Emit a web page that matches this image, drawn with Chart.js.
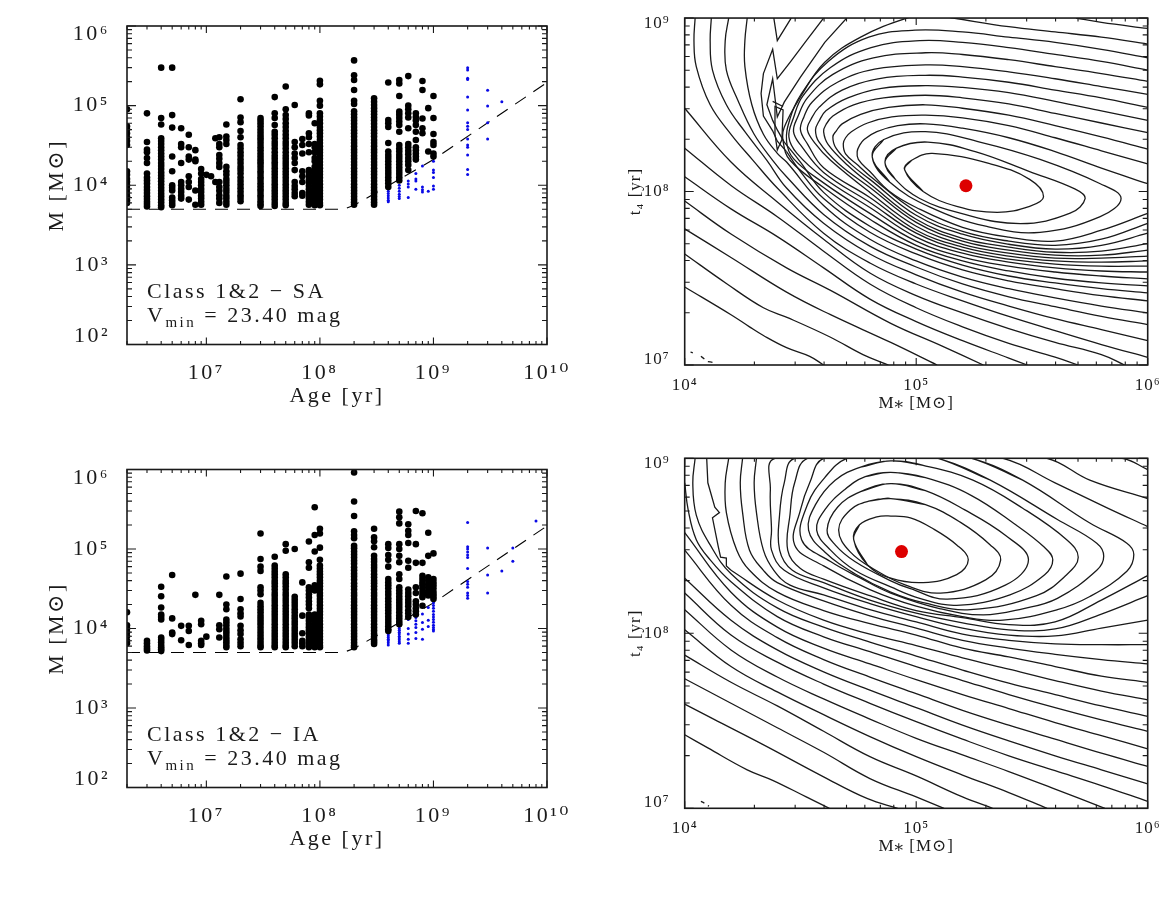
<!DOCTYPE html>
<html>
<head>
<meta charset="utf-8">
<title>Class 1&amp;2 mass-age fits</title>
<script src="https://cdn.jsdelivr.net/npm/chart.js@4/dist/chart.umd.min.js"></script>
<style>
  html, body { margin: 0; background: #fff; }
  body { position: relative; width: 1175px; height: 899px; overflow: hidden; }
  canvas { position: absolute; }
  #cSA { left: 0; top: 0; }
  #cFitSA { left: 587px; top: 0; }
  #cIA { left: 0; top: 440px; }
  #cFitIA { left: 587px; top: 440px; }
</style>
</head>
<body>
<canvas id="cSA" width="587" height="430"></canvas>
<canvas id="cFitSA" width="588" height="430"></canvas>
<canvas id="cIA" width="587" height="459"></canvas>
<canvas id="cFitIA" width="588" height="459"></canvas>
<script>
// masses below are in units of 1000 Msun
const saAges = [2e6,3e6,4e6,5e6,6e6,7e6,8e6,9e6,1e7,1.1e7,1.2e7,1.3e7,1.5e7,2e7,3e7,4e7,5e7,6e7,7e7,8e7,9e7,1e8,2e8,3e8,4e8,5e8,6e8,7e8,8e8,9e8,1e9];
const saMasses = [
  [90,55,50,45,40,36,32,15,13.5,12,11,10,9,8,7.2,6.5,6],
  [80,35,28,26,22,19,14,12.5,11.5,10.5,9.5,8.7,8,7.3,6.7,6.2,5.8,5.4],
  [300,70,58,39,36,33,30,27.5,25,23,21,19,17.5,16,14.5,13.3,12.2,11.2,10.2,9.3,8.5,7.8,7.2,6.6,6.1,5.6,5.3],
  [300,76,53,23,15,10,9.3,8.6,7,6.5,6,5.6],
  [52,33,30,19,11,10,9,8.2,7.4,6.8],
  [43,30,23,21,13,11,9.5,6.6],
  [27.6,21,20,8.6,5.7],
  [16,14,12,11,10,9,8.2,7.4,6.8,6.2,5.7],
  [13.5],
  [13],
  [39,11],
  [40,33,30,24,21.5,19,17,11,9.5,8.5,7.5,6.8,6],
  [58,41,37,33,17,15,13.5,12,11,10,9,8.2,7.4,6.8,6.2,5.7],
  [120,71,62,48,40,32,29,26,23.5,21,19,17,15.5,14,12.5,11.3,10.2,9.2,8.3,7.5,6.9,6.3],
  [70,65,60,55,50,46,42,39,36,33,30,27.5,25,23,21,19.5,18,16.5,15,13.8,12.6,11.6,10.6,9.7,8.9,8.2,7.5,6.9,6.3,5.8,5.5],
  [128,80,70,57,47,43,39,35,32,29,26,23.5,21.5,19.5,17.9,16.3,14.9,13.6,12.4,11.3,10.3,9.4,8.6,7.9,7.2,6.6,6,5.5],
  [174,90,76,68,60,54,48,43,39,35,32,29,26,23.5,21.5,19.6,17.9,16.3,14.9,13.6,12.4,11.3,10.3,9.4,8.6,7.9,7.2,6.6,6,5.6],
  [102,35,30,25,22,19,15.5,11,9.8,8.9,8,7.3],
  [38,32,25,15,13,11,8,7.4],
  [80,75,45,40,33,26,15.5,14.2,13,11.8,10.8,9.8,8.9,8.1,7.4,6.8,6.2,5.7],
  [60,33,30,26,22,20,17,15,13.6,12.4,11.3,10.3,9.4,8.6,7.9,7.2,6.6,6,5.6],
  [205,185,115,100,80,73,66,60,54,49,45,41,37,34,31,28,25.8,23.5,21.5,19.6,17.9,16.3,14.9,13.6,12.4,11.3,10.3,9.4,8.6,7.9,7.2,6.6,6,5.6],
  [370,240,210,157,115,105,85,78,71,65,59,54,49,45,41,37,34,31,28,25.8,23.5,21.5,19.6,17.9,16.3,14.9,13.6,12.4,11.3,10.3,9.4,8.6,7.9,7.2,6.6,6.1,5.7],
  [124,112,102,93,85,78,71,65,59,54,49,45,41,37,34,31,28,25.8,23.5,21.5,19.6,17.9,16.3,14.9,13.6,12.4,11.3,10.3,9.4,8.6,7.9,7.2,6.6,6.1,5.7],
  [195,66,60,54,34,26.5,24,22,20,18.2,16.6,15.1,13.8,12.6,11.5,10.5,9.5],
  [210,190,132,84,77,70,63,57,47,32,29,26.5,24,22,20,18.2,16.6,15.1,13.8,12.6,11.5],
  [235,100,90,80,71,52,33,30,27,24.5,22,20,18,15.5],
  [80,72,65,57,47,37,30,27.5,25,23,21],
  [204,157,69,52,45],
  [93,26.5],
  [132,70,44,35,32,25,23]
];
const saBlueAges = [3e8,4e8,5e8,6e8,7e8,8e8,9e8,1e9,2e9,3e9,4e9];
const saBlueMasses = [
  [6.5,6.2],
  [9,8.4,7.9,7.4,6.9,6.5,6.2],
  [10,9.2,8.4,7.7,7.2,6.8],
  [11.3,10.4,9.5,7],
  [14,12,11.3,8.9],
  [17.5,9.5,8.8,8.2],
  [8.4],
  [20,15.5,14.5,12.5,9.8,8.9],
  [300,280,220,213,128,88,61,55,50,38,32,30,24,15.8,13.6],
  [156,99,61,38],
  [112]
];

const iaAges = [2e6,3e6,4e6,5e6,6e6,7e6,8e6,9e6,1e7,1.3e7,1.5e7,2e7,3e7,4e7,5e7,6e7,7e7,8e7,9e7,1e8,2e8,3e8,4e8,5e8,6e8,7e8,8e8,9e8,1e9];
const iaMasses = [
  [16,11,10,9,8,7,6.5],
  [7,6.5,6,5.6,5.3],
  [33.5,25.5,18.4,15,14,13,7.7,7.2,6.7,6.2,5.8,5.5,5.2],
  [47,13.4,8.9,8.5],
  [10.8,7.1],
  [10.8,9.3,6.2],
  [26.5],
  [12.5,11.3,7,6.5,6.2],
  [7.9],
  [26.5,11,9.8,7.7],
  [45,20,17.5,13,12,11,10,9.2,8.5,7.8,7.2,6.7,6.2,5.8],
  [49,23.5,17.5,15.5,14.2,10.8,9.5,8.5,7.3,6.6,6],
  [157,75,60,53,33,30,27,21,19,17.5,16,14.5,13.3,12.2,11.2,10.2,9.3,8.5,7.8,7.2,6.6,6.1,5.8],
  [80,62,57,52,48,44,40,37,34,31,28,25.8,23.5,21.5,19.6,17.9,16.3,14.9,13.6,12.4,11.3,10.3,9.4,8.6,7.9,7.2,6.6,6.1,5.8],
  [115,95,48,44,40,37,34,31,28,25.8,23.5,21.5,19.6,17.9,16.3,14.9,13.6,12.4,11.3,10.3,9.4,8.6,7.9,7.2,6.6,6.1,5.8],
  [100,25,23,21,19.2,17.5,16,14.6,13.4,12.2,11.2,10.2,9.4,8.6,7.9,7.2,6.6,6],
  [38,14.5,8.7,7,6.5,6],
  [124,68,58,33,30,27,24.5,22,20,18,15,13.7,12.5,11.4,10.4,9.5,8.7,7.9,7.2,6.6,6.1,5.8],
  [335,150,93,35,32,30,15,13.7,12.5,11.4,10.4,9.5,8.7,7.9,7.2,6.6,6.1,5.8],
  [180,157,104,73,62,57,52,48,44,40,37,34,31,28,25.8,23.5,21.5,19.6,17.9,16.3,14.9,13.6,12.4,11.3,10.3,9.4,8.6,7.9,7.2,6.6,6.1,5.8],
  [915,395,260,167,150,137,110,102,93,85,78,71,65,59,54,49,45,41,37,34,31,28,25.8,23.5,21.5,19.6,17.9,16.3,14.9,13.6,12.4,11.3,10.3,9.4,8.6,7.9,7.2,6.6,6.1,5.8],
  [180,140,125,105,82,75,69,63,58,53,48,44,40,37,34,31,28,25.8,23.5,21.5,19.6,17.9,16.3,14.9,13.6,12.4,11.3,10.3,9.4,8.6,7.9,7.2,6.8,6.4],
  [115,103,84,73,60,42,38,35,32,29,26.5,24,22,20,18.4,16.8,15.4,14,12.8,11.7,10.7,9.8,9.3],
  [295,250,210,115,100,82,68,48,42,33,30,27.5,25,23,21,19.2,17.6,16,14.6,13.4,12.2,11.3],
  [205,170,150,119,71,58,31,28,25.5,23,21,19,17,15.5,14],
  [300,115,67,33,28,22,20,18,16.5,15],
  [282,67,46,42,38,35,32,29,26.5,24.7,19.3],
  [160,82,44,40,36,33,30,28,26],
  [88,42,38,35,32,29,27,25,23.5]
];
const iaBlueAges = [3e8,4e8,5e8,6e8,7e8,8e8,9e8,1e9,2e9,3e9,4e9,5e9,8e9];
const iaBlueMasses = [
  [7,6.7,6.4,6.2],
  [8.5,8.1,7.7,7.3,7,6.6,6.2],
  [10.6,10,9.5,9,8.5,8,7.6,7.2,6.8,6.5],
  [13,10,8.5,7.3,6.5],
  [13.8,12.5,11.3,10.3,8.9,7.5],
  [15.2,11.9,9.8,7.3],
  [18.4,12.7,10.6],
  [21,19.5,18,16.5,15,14,13,12,11,10.3,9.7,9.3],
  [215,107,100,92,84,78,57,39,36,33,28,26,24],
  [103,47,28],
  [53],
  [103,70],
  [225]
];

// completeness limit, same in both left panels
const limitAges = [2e6,1.5e8,1.7e8,2e8,1e9,1e10];
const limitMasses = [5,5,5.15,5.6,21,195];

const ageTicks = [1e7,1e8,1e9,1e10];
const massTicks = [1e2,1e3,1e4,1e5,1e6];
const starMassTicks = [1e4,1e5,1e6];
const timeTicks = [1e7,1e8,1e9];

// best fit points [Msun, yr]
const bestFitSA = [1.64e5,1.08e8];
const bestFitIA = [8.64e4,2.93e8];

// contours as log10(M*) and log10(t4)
const saContourM = [
  [4,4.2,4.28,4.34,4.44,4.54,4.6],
  [4,4.18,4.34,4.45,4.63,4.77,4.88],
  [4,4.2,4.44,4.63,4.89,5.09],
  [4,4.2,4.44,4.63,4.89,5.11,5.29],
  [4,4.2,4.4,4.6,4.8,5,5.2,5.4,5.48],
  [4,4.2,4.4,4.6,4.8,5,5.2,5.4,5.6,5.7],
  [4,4.2,4.4,4.6,4.8,5,5.2,5.4,5.6,5.8,5.9],
  [4.045,4.04,4.05,4.11,4.2,4.295,4.4,4.6,4.8,5,5.2,5.4,5.6,5.8,6],
  [4.115,4.11,4.12,4.18,4.26,4.355,4.44,4.6,4.8,5,5.2,5.4,5.6,5.8,6],
  [4.19,4.175,4.18,4.23,4.3,4.38,4.44,4.6,4.8,5,5.2,5.4,5.6,5.8,6],
  [4.27,4.26,4.26,4.29,4.34,4.4,4.44,4.6,4.8,5,5.2,5.4,5.6,5.8,6],
  [4.385,4.4,4.46],
  [4.6,4.52,4.455,4.4,4.38,4.34,4.33,4.34,4.38,4.4,4.44],
  [4.7,4.605,4.5,4.43,4.4,4.38,4.355,4.38,4.4,4.43],
  [4.39,4.425,4.42,4.4,4.39,4.39],
  [4.38,4.425],
  [4.44,4.5,4.6,4.8,5,5.2,5.4,5.6,5.8,6],
  [4.43,4.5,4.6,4.8,5,5.2,5.4,5.6,5.8,6],
  [6,5.8,5.69],
  [6,5.8,5.6,5.4,5.16,5.06,4.96,4.76,4.605,4.5,4.43,4.425,4.455,4.6,4.8,5,5.2,5.4,5.6,5.8,6],
  [6,5.8,5.6,5.4,5.2,4.995,4.795,4.62,4.5,4.455,4.44,4.47,4.6,4.8,5,5.2,5.4,5.6,5.8,6],
  [6,5.8,5.6,5.4,5.2,5.015,4.805,4.63,4.51,4.47,4.45,4.485,4.6,4.8,5,5.2,5.4,5.6,5.8,6],
  [6,5.8,5.6,5.4,5.2,5.04,4.815,4.64,4.53,4.49,4.47,4.505,4.6,4.8,5,5.2,5.4,5.6,5.8,6],
  [6,5.8,5.6,5.4,5.2,5.04,4.82,4.66,4.55,4.515,4.5,4.53,4.6,4.8,5,5.2,5.4,5.6,5.8,6],
  [6,5.8,5.6,5.4,5.2,5.04,4.835,4.68,4.58,4.545,4.53,4.565,4.63,4.8,5,5.2,5.4,5.6,5.8,6],
  [6,5.8,5.6,5.4,5.2,5.04,4.85,4.705,4.61,4.58,4.565,4.58,4.665,4.8,5,5.2,5.4,5.6,5.8,6],
  [6,5.8,5.6,5.4,5.2,5.04,4.86,4.73,4.64,4.61,4.6,4.62,4.705,4.8,5,5.2,5.4,5.6,5.8,6],
  [6,5.8,5.6,5.4,5.2,5.04,4.88,4.76,4.68,4.655,4.64,4.655,4.72,4.8,5,5.2,5.4,5.6,5.8,6],
  [6,5.8,5.6,5.4,5.2,5.04,4.895,4.79,4.72,4.695,4.685,4.695,4.75,4.8,5,5.2,5.4,5.6,5.8,6],
  [6,5.8,5.6,5.4,5.2,5.04,4.92,4.83,4.775,4.755,4.745,4.75,4.8,4.885,5,5.2,5.4,5.6,5.8,6],
  [4.81,4.86,5.04,5.275,5.535,5.795,5.885,5.795,5.535,5.3,5.06,4.885,4.81],
  [4.865,4.915,5.05,5.255,5.49,5.685,5.73,5.665,5.45,5.19,5.015,4.91,4.865],
  [4.95,4.98,5.07,5.32,5.49,5.55,5.49,5.35,5.175,5.03,4.95],
  [4.025,4.035],
  [4.07,4.085],
  [4.1,4.12]
];
const saContourT = [
  [7.45,7.29,7.22,7.17,7.1,7.05,7],
  [7.64,7.47,7.33,7.27,7.16,7.06,7],
  [7.785,7.62,7.42,7.29,7.13,7],
  [7.945,7.755,7.56,7.43,7.24,7.11,7],
  [8.085,7.9,7.74,7.56,7.38,7.25,7.14,7.04,7],
  [8.25,8.035,7.855,7.656,7.467,7.33,7.22,7.125,7.045,7],
  [8.48,8.17,7.94,7.725,7.53,7.4,7.3,7.21,7.13,7.06,7],
  [9,8.87,8.72,8.5,8.33,8.18,8.02,7.76,7.588,7.467,7.37,7.28,7.198,7.118,7.044],
  [9,8.87,8.7,8.5,8.345,8.18,8.02,7.817,7.64,7.52,7.42,7.34,7.267,7.204,7.14],
  [9,8.87,8.7,8.525,8.33,8.18,8.085,7.868,7.685,7.565,7.467,7.393,7.336,7.28,7.233],
  [9,8.87,8.72,8.5,8.33,8.22,8.17,7.92,7.725,7.6,7.507,7.44,7.387,7.34,7.3],
  [9,8.87,9],
  [9,8.86,8.745,8.65,8.82,8.68,8.565,8.435,8.35,8.29,8.23],
  [9,8.86,8.66,8.515,8.43,8.65,8.5,8.41,8.355,8.285],
  [8.49,8.47,8.3,8.24,8.33,8.49],
  [8.52,8.49],
  [8.23,8.115,7.96,7.765,7.64,7.548,7.485,7.44,7.4,7.37],
  [8.285,8.17,7.995,7.8,7.668,7.576,7.513,7.473,7.44,7.416],
  [8.94,8.975,9],
  [8.85,8.89,8.92,8.95,9,9.02,9,8.89,8.745,8.545,8.37,8.29,8.18,8.023,7.84,7.69,7.6,7.542,7.5,7.473,7.456],
  [8.77,8.82,8.86,8.89,8.92,8.93,8.89,8.75,8.555,8.42,8.29,8.19,8.05,7.874,7.714,7.622,7.57,7.536,7.513,7.496],
  [8.7,8.75,8.79,8.83,8.86,8.87,8.83,8.715,8.55,8.425,8.315,8.22,8.08,7.908,7.737,7.645,7.593,7.56,7.542,7.536],
  [8.635,8.68,8.72,8.76,8.79,8.8,8.77,8.675,8.54,8.435,8.345,8.26,8.11,7.937,7.76,7.662,7.61,7.582,7.57,7.57],
  [8.56,8.605,8.65,8.69,8.72,8.73,8.705,8.63,8.515,8.43,8.355,8.275,8.137,7.966,7.777,7.68,7.628,7.6,7.593,7.6],
  [8.485,8.54,8.585,8.63,8.66,8.67,8.65,8.585,8.485,8.415,8.355,8.275,8.18,7.995,7.8,7.696,7.645,7.616,7.616,7.628],
  [8.41,8.465,8.52,8.57,8.6,8.61,8.595,8.54,8.465,8.405,8.355,8.286,8.16,8.023,7.822,7.714,7.662,7.633,7.633,7.662],
  [8.34,8.395,8.45,8.505,8.54,8.555,8.54,8.5,8.435,8.385,8.345,8.27,8.15,8.045,7.84,7.73,7.68,7.65,7.656,7.7],
  [8.245,8.315,8.38,8.44,8.48,8.5,8.485,8.445,8.39,8.35,8.315,8.247,8.155,8.07,7.863,7.754,7.696,7.668,7.69,7.76],
  [8.16,8.235,8.31,8.38,8.425,8.44,8.43,8.395,8.345,8.31,8.275,8.217,8.15,8.09,7.885,7.77,7.714,7.69,7.725,7.817],
  [8.045,8.135,8.23,8.31,8.365,8.39,8.38,8.345,8.3,8.265,8.23,8.185,8.115,8,7.908,7.794,7.737,7.714,7.777,7.874],
  [8.2,8.3,8.345,8.285,8.185,8.045,7.96,7.855,7.765,7.8,7.91,8.055,8.2],
  [8.17,8.25,8.285,8.23,8.115,8.015,7.96,7.875,7.815,7.875,7.96,8.07,8.17],
  [8.125,8.18,8.22,8.16,8.07,7.97,7.915,7.88,7.915,8,8.125],
  [7.075,7.07],
  [7.05,7.035],
  [7.02,7.015]
];
const saSharpContours = [11,12,13,14,15];

const iaContourM = [
  [4,4.1,4.27,4.38,4.525,4.625],
  [4,4.125,4.345,4.6,4.79,4.92],
  [4,4.2,4.4,4.6,4.8,5,5.12],
  [4,4.2,4.4,4.6,4.8,5,5.2,5.33],
  [4,4.2,4.4,4.6,4.8,5,5.2,5.4,5.565],
  [4,4.2,4.4,4.6,4.8,5,5.2,5.4,5.6,5.815],
  [4,4.2,4.4,4.6,4.8,5,5.2,5.4,5.6,5.8,6],
  [4,4.2,4.4,4.6,4.8,5,5.2,5.4,5.6,5.8,6],
  [4,4.2,4.4,4.6,4.8,5,5.2,5.4,5.6,5.8,6],
  [4,4.2,4.4,4.6,4.8,5,5.2,5.4,5.6,5.8,6],
  [4,4.015,4.05,4.11,4.2,4.4,4.6,4.8,5,5.2,5.4,5.6,5.8,6],
  [4.045,4.035,4.05,4.11,4.2,4.4,4.6,4.8,5,5.2,5.4,5.6,5.8,6],
  [4.095,4.1,4.13,4.15,4.12,4.145,4.155,4.18,4.18,4.2],
  [4.2,4.4,4.6,4.8,5,5.2,5.4,5.6,5.8,6],
  [4.19,4.175,4.18,4.225,4.28,4.4,4.6,4.8,5,5.2,5.4,5.6,5.8,6],
  [4.25,4.24,4.25,4.28,4.34,4.4,4.6,4.8,5,5.2,5.4,5.6,5.8,6],
  [4.31,4.3,4.31,4.34,4.385,4.455,4.6,4.8,5,5.2,5.4,5.6,5.8,6],
  [6,5.89,5.15,4.39,4.37,4.375,4.375,4.43,4.6,4.8,5,5.2,5.4,5.6,5.8,6],
  [6,5.75,5.565,5.02,4.475,4.43,4.41,4.41,4.465,4.6,4.8,5,5.2,5.4,5.6,5.8,6],
  [6,5.82,5.6,5.375,4.9,4.53,4.475,4.455,4.445,4.5,4.6,4.8,5,5.2,5.4,5.6,5.8,6],
  [5.24,5.46,5.75,5.91,5.94,5.91,5.75,5.61,5.375,5.2,5,4.8,4.6,4.475,4.5,4.54,4.6,4.93,5.24],
  [5.095,5.32,5.61,5.78,5.81,5.78,5.61,5.46,5.29,5.105,4.89,4.76,4.63,4.505,4.53,4.605,4.7,4.89,5.095],
  [4.89,5.03,5.245,5.46,5.65,5.7,5.65,5.52,5.235,5.03,4.89,4.735,4.605,4.535,4.565,4.65,4.76,4.89],
  [4.89,5.04,5.235,5.43,5.555,5.59,5.555,5.405,5.175,5.015,4.89,4.735,4.63,4.57,4.605,4.69,4.78,4.89],
  [4.89,5.04,5.21,5.385,5.485,5.385,5.135,4.975,4.89,4.735,4.65,4.615,4.66,4.76,4.89],
  [4.89,5.04,5.19,5.32,5.365,5.3,5.105,4.955,4.825,4.715,4.665,4.715,4.795,4.89],
  [4.73,4.755,4.83,4.89,4.975,5.07,5.175,5.225,5.175,5.03,4.89,4.79,4.73],
  [4.07,4.085],
  [4.1,4.105]
];
const iaContourT = [
  [7.42,7.345,7.22,7.16,7.065,7],
  [7.595,7.51,7.36,7.18,7.055,7],
  [7.74,7.6,7.46,7.32,7.17,7.065,7],
  [7.875,7.72,7.585,7.44,7.295,7.185,7.065,7],
  [8.02,7.81,7.665,7.535,7.41,7.295,7.19,7.09,7],
  [8.135,7.905,7.75,7.625,7.51,7.4,7.305,7.21,7.11,7],
  [8.23,7.99,7.835,7.71,7.6,7.495,7.395,7.3,7.215,7.13,7.04],
  [8.315,8.075,7.905,7.78,7.675,7.575,7.475,7.385,7.3,7.22,7.14],
  [8.475,8.16,7.975,7.85,7.75,7.655,7.56,7.475,7.395,7.315,7.24],
  [8.575,8.235,8.035,7.915,7.825,7.735,7.65,7.57,7.49,7.415,7.34],
  [8.86,8.705,8.535,8.42,8.295,8.095,7.98,7.895,7.81,7.73,7.65,7.575,7.505,7.44],
  [9,8.86,8.675,8.505,8.34,8.145,8.035,7.95,7.87,7.79,7.715,7.65,7.585,7.525],
  [9,8.86,8.72,8.69,8.66,8.495,8.435,8.43,8.385,8.36],
  [8.36,8.19,8.075,7.995,7.93,7.86,7.795,7.73,7.67,7.62],
  [9,8.86,8.69,8.475,8.36,8.235,8.13,8.055,7.99,7.915,7.865,7.81,7.755,7.72],
  [9,8.86,8.69,8.475,8.36,8.29,8.185,8.1,8.03,7.96,7.915,7.88,7.85,7.825],
  [9,8.86,8.69,8.475,8.36,8.275,8.22,8.135,8.065,7.995,7.96,7.94,7.935,7.935],
  [8.935,9,9.11,9,8.82,8.59,8.475,8.36,8.26,8.17,8.095,8.03,7.99,7.985,8.03,8.075],
  [8.77,8.875,9,9.11,9,8.86,8.68,8.475,8.36,8.29,8.19,8.115,8.06,8.02,8.025,8.11,8.215],
  [8.61,8.72,8.86,9,9.1,9,8.86,8.68,8.475,8.37,8.31,8.215,8.13,8.09,8.05,8.065,8.19,8.33],
  [9,8.875,8.63,8.515,8.45,8.355,8.21,8.135,8.075,8.095,8.155,8.25,8.385,8.505,8.705,8.86,9,9.08,9],
  [9,8.875,8.65,8.515,8.44,8.36,8.2,8.14,8.105,8.14,8.23,8.315,8.41,8.535,8.735,8.89,9,9.05,9],
  [8.985,8.96,8.875,8.715,8.535,8.435,8.335,8.215,8.135,8.175,8.235,8.34,8.465,8.59,8.735,8.875,8.95,8.985],
  [8.92,8.89,8.79,8.62,8.49,8.42,8.335,8.22,8.16,8.2,8.265,8.36,8.475,8.59,8.705,8.82,8.895,8.92],
  [8.855,8.815,8.705,8.56,8.42,8.275,8.195,8.255,8.3,8.41,8.505,8.59,8.72,8.81,8.855],
  [8.77,8.735,8.635,8.505,8.42,8.305,8.23,8.275,8.36,8.465,8.59,8.705,8.755,8.77],
  [8.535,8.62,8.665,8.67,8.66,8.6,8.505,8.42,8.335,8.29,8.315,8.39,8.535],
  [7.04,7.03],
  [7.015,7.012]
];
const iaSharpContours = [12];

const FONT = "'Liberation Serif', 'DejaVu Serif', serif";
const INK = '#1a1a1a';
const SUPERS = { '0':'⁰','1':'¹','2':'²','3':'³','4':'⁴','5':'⁵','6':'⁶','7':'⁷','8':'⁸','9':'⁹' };

function decadeLabel(v) {
  const exp = String(Math.round(Math.log10(v)));
  return '10' + exp.split('').map((c) => SUPERS[c]).join('');
}

function columnPoints(ages, masses) {
  const pts = [];
  ages.forEach((age, i) => {
    masses[i].forEach((m) => pts.push({ x: age, y: m * 1000 }));
  });
  return pts;
}

function contourDatasets(logM, logT, sharp) {
  return logM.map((ms, i) => {
    let pts = ms.map((m, j) => ({ x: Math.pow(10, m), y: Math.pow(10, logT[i][j]) }));
    const last = pts.length - 1;
    // closed loops: run one node past the seam so the spline has no corner there
    if (last > 3 && ms[0] === ms[last] && logT[i][0] === logT[i][last]) {
      pts = [pts[last - 1]].concat(pts, [pts[1]]);
    }
    return {
      data: pts,
      showLine: true,
      pointRadius: 0,
      borderColor: INK,
      borderWidth: 1.3,
      tension: sharp.includes(i) ? 0 : 0.4,
      order: 2
    };
  });
}

// box and inward ticks on all four sides, like the original plots
const framePlugin = {
  id: 'frame',
  beforeDraw(chart, args, opts) {
    chart.ctx.letterSpacing = opts.spacing + 'px';
  },
  afterDatasetsDraw(chart, args, opts) {
    const { ctx, chartArea: a, scales } = chart;
    ctx.save();
    ctx.strokeStyle = INK;
    ctx.lineWidth = 1.6;
    ctx.strokeRect(a.left, a.top, a.right - a.left, a.bottom - a.top);
    ctx.lineWidth = 1.1;
    ctx.beginPath();
    ['x', 'y'].forEach((id) => {
      const s = scales[id];
      for (let e = Math.floor(Math.log10(s.min)); e < Math.log10(s.max) + 0.01; e++) {
        for (let k = 1; k < 10; k++) {
          const v = k * Math.pow(10, e);
          if (v < s.min * 0.999 || v > s.max * 1.001) continue;
          const p = s.getPixelForValue(v);
          const len = opts[id][k === 1 ? 0 : 1];
          if (id === 'x') {
            ctx.moveTo(p, a.bottom); ctx.lineTo(p, a.bottom - len);
            ctx.moveTo(p, a.top); ctx.lineTo(p, a.top + len);
          } else {
            ctx.moveTo(a.left, p); ctx.lineTo(a.left + len, p);
            ctx.moveTo(a.right, p); ctx.lineTo(a.right - len, p);
          }
        }
      }
    });
    ctx.stroke();
    ctx.restore();
  }
};

// two line note in the lower left of the mass-age panels
const notePlugin = {
  id: 'note',
  afterDraw(chart, args, opts) {
    if (!opts.text) return;
    const { ctx, chartArea: a } = chart;
    const x = a.left + 20;
    ctx.save();
    ctx.fillStyle = INK;
    ctx.textAlign = 'left';
    ctx.textBaseline = 'alphabetic';
    ctx.font = '22px ' + FONT;
    ctx.fillText(opts.text, x, a.bottom - 47);
    ctx.fillText('V', x, a.bottom - 23);
    const w = ctx.measureText('V').width;
    ctx.font = '15px ' + FONT;
    ctx.fillText('min', x + w, a.bottom - 18);
    const w2 = ctx.measureText('min').width;
    ctx.font = '22px ' + FONT;
    ctx.fillText(' = 23.40 mag', x + w + w2, a.bottom - 23);
    ctx.restore();
  }
};

function axisOptions(o) {
  const size = o.size;
  return {
    type: 'logarithmic',
    min: o.min,
    max: o.max,
    grid: { display: false },
    border: { display: false },
    afterBuildTicks(scale) {
      scale.ticks = o.ticks.map((v) => ({ value: v, major: true }));
    },
    afterFit(scale) {
      if (o.axis === 'x') scale.height = o.box;
      else scale.width = o.box;
    },
    ticks: {
      autoSkip: false,
      maxRotation: 0,
      minRotation: 0,
      padding: o.pad,
      color: INK,
      font: { family: FONT, size: size, lineHeight: o.axis === 'x' ? 1.2 : o.shift },
      callback(v, i, all) {
        const label = decadeLabel(v);
        if (o.axis === 'y' && i === 0) return [label, ''];
        if (o.axis === 'y' && i === all.length - 1) return ['', label];
        return label;
      }
    },
    title: {
      display: true,
      text: o.title,
      color: INK,
      font: { family: FONT, size: o.titleSize, lineHeight: 1.2 },
      padding: o.axis === 'x' ? { top: 0, bottom: o.titlePad } : { top: o.titlePad, bottom: 0 }
    }
  };
}

function makeChart(id, datasets, o) {
  const canvas = document.getElementById(id);
  return new Chart(canvas, {
    type: 'scatter',
    data: { datasets: datasets },
    options: {
      responsive: false,
      animation: false,
      events: [],
      layout: {
        padding: {
          left: 0,
          bottom: 0,
          top: o.plot.top,
          right: canvas.width - o.plot.right
        }
      },
      plugins: {
        legend: { display: false },
        tooltip: { enabled: false },
        frame: { spacing: o.spacing, x: o.xTicks, y: o.yTicks },
        note: { text: o.note }
      },
      scales: {
        x: axisOptions(Object.assign({ axis: 'x', box: canvas.height - o.plot.bottom }, o.x)),
        y: axisOptions(Object.assign({ axis: 'y', box: o.plot.left }, o.y))
      }
    },
    plugins: [framePlugin, notePlugin]
  });
}

function massAgeDatasets(ages, masses, blueAges, blueMasses) {
  return [
    { data: columnPoints(ages, masses), pointRadius: 3.3, pointBackgroundColor: '#000', pointBorderWidth: 0, order: 1 },
    { data: columnPoints(blueAges, blueMasses), pointRadius: 1.5, pointBackgroundColor: '#0a0ae6', pointBorderWidth: 0, order: 2 },
    {
      data: limitAges.map((a, i) => ({ x: a, y: limitMasses[i] * 1000 })),
      showLine: true,
      pointRadius: 0,
      borderColor: '#000',
      borderWidth: 1.1,
      borderDash: [13, 9],
      order: 3
    }
  ];
}

function massAgeOptions(plot, note, titleY, canvasH) {
  return {
    plot: plot,
    note: note,
    spacing: 2.5,
    xTicks: [7, 3.5],
    yTicks: [9, 5],
    x: {
      min: 2e6, max: 1e10, ticks: ageTicks, size: 22, pad: 8,
      title: 'Age [yr]', titleSize: 22, titlePad: canvasH - titleY - 13
    },
    y: {
      min: 1e2, max: 1e6, ticks: massTicks, size: 22, pad: 9, shift: 0.75,
      title: 'M [M⊙]', titleSize: 22, titlePad: 44
    }
  };
}

function fitDatasets(logM, logT, sharp, best) {
  const sets = contourDatasets(logM, logT, sharp);
  sets.push({
    data: [{ x: best[0], y: best[1] }],
    pointRadius: 6.5,
    pointBackgroundColor: '#dd0000',
    pointBorderWidth: 0,
    order: 1
  });
  return sets;
}

function fitOptions(plot, titleY, canvasH) {
  return {
    plot: plot,
    spacing: 1,
    xTicks: [7, 3.5],
    yTicks: [9, 5],
    x: {
      min: 1e4, max: 1e6, ticks: starMassTicks, size: 17, pad: 2,
      title: 'M⁎ [M⊙]', titleSize: 17, titlePad: canvasH - titleY - 10
    },
    y: {
      min: 1e7, max: 1e9, ticks: timeTicks, size: 17, pad: 7, shift: 0.65,
      title: 't₄ [yr]', titleSize: 17, titlePad: 38
    }
  };
}

makeChart('cSA', massAgeDatasets(saAges, saMasses, saBlueAges, saBlueMasses),
  massAgeOptions({ left: 127, right: 547, top: 26, bottom: 344.5 }, 'Class 1&2 − SA', 396, 430));
makeChart('cIA', massAgeDatasets(iaAges, iaMasses, iaBlueAges, iaBlueMasses),
  massAgeOptions({ left: 127, right: 547, top: 29.5, bottom: 347.5 }, 'Class 1&2 − IA', 399, 459));
makeChart('cFitSA', fitDatasets(saContourM, saContourT, saSharpContours, bestFitSA),
  fitOptions({ left: 97.7, right: 560.7, top: 15.7, bottom: 365 }, 404, 430));
makeChart('cFitIA', fitDatasets(iaContourM, iaContourT, iaSharpContours, bestFitIA),
  fitOptions({ left: 97.7, right: 560.7, top: 18.3, bottom: 368.3 }, 407, 459));
</script>
</body>
</html>
